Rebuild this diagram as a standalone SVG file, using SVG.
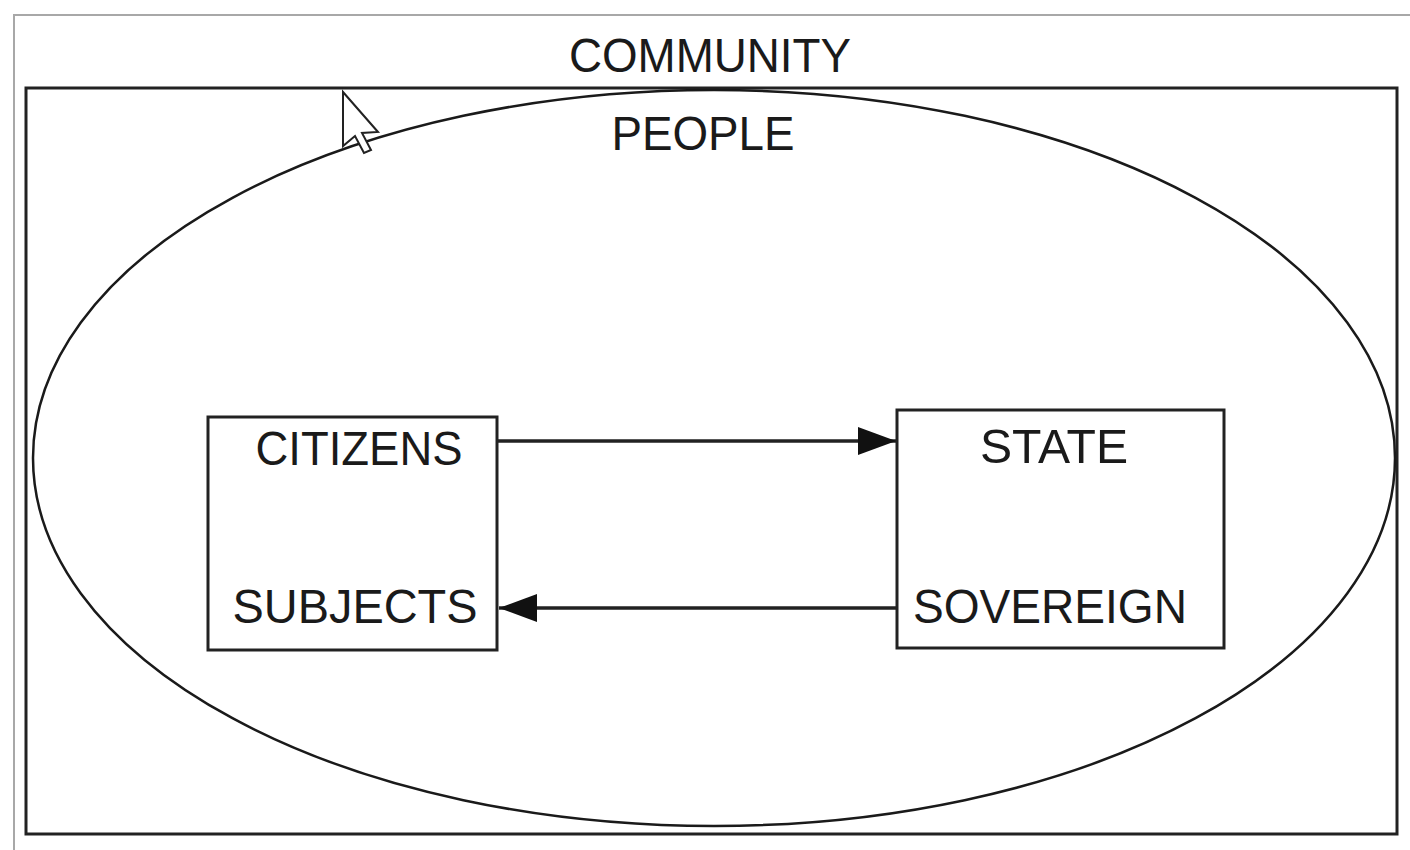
<svg xmlns="http://www.w3.org/2000/svg" width="1410" height="850" viewBox="0 0 1410 850">
  <style>
    .frame { fill: none; stroke: #a8a8a8; stroke-width: 2; }
    .box { fill: #fff; stroke: #222; stroke-width: 3; }
    .outline { fill: none; stroke: #222; stroke-width: 3; }
    .ring { fill: none; stroke: #1a1a1a; stroke-width: 2.5; }
    .label { font-family: "Liberation Sans", Arial, sans-serif; font-size: 48px; fill: #1a1a1a; }
    .link { stroke: #222; stroke-width: 3.5; fill: none; }
  </style>
  <defs>
    <marker id="head" viewBox="0 0 38 28" refX="38" refY="14" markerWidth="38" markerHeight="28" markerUnits="userSpaceOnUse" orient="auto">
      <path d="M0,0 L38,14 L0,28 Z" fill="#111"/>
    </marker>
  </defs>

  <rect width="1410" height="850" fill="#fff"/>

  <!-- window frame -->
  <path class="frame" d="M14,850 V15 H1410"/>

  <g id="community">
    <rect class="outline" x="26" y="88" width="1371" height="746"/>
    <text class="label" x="710" y="72" text-anchor="middle" textLength="282" lengthAdjust="spacingAndGlyphs">COMMUNITY</text>
  </g>

  <g id="people">
    <ellipse class="ring" cx="714" cy="458" rx="681" ry="368"/>
    <text class="label" x="703" y="150" text-anchor="middle" textLength="183" lengthAdjust="spacingAndGlyphs">PEOPLE</text>
  </g>

  <g id="citizens">
    <rect class="box" x="208" y="417" width="289" height="233"/>
    <text class="label" x="359" y="465" text-anchor="middle" textLength="207" lengthAdjust="spacingAndGlyphs">CITIZENS</text>
    <text class="label" x="355" y="623" text-anchor="middle" textLength="245" lengthAdjust="spacingAndGlyphs">SUBJECTS</text>
  </g>

  <g id="state">
    <rect class="box" x="897" y="410" width="327" height="238"/>
    <text class="label" x="1054" y="463" text-anchor="middle" textLength="148" lengthAdjust="spacingAndGlyphs">STATE</text>
    <text class="label" x="1050" y="623" text-anchor="middle" textLength="274" lengthAdjust="spacingAndGlyphs">SOVEREIGN</text>
  </g>

  <g id="connectors">
    <line class="link" x1="498" y1="441" x2="896" y2="441" marker-end="url(#head)"/>
    <line class="link" x1="896" y1="608" x2="499" y2="608" marker-end="url(#head)"/>
  </g>

  <!-- pointer -->
  <polygon id="pointer" points="343,92 343,146 355,136 364,153 371,150 362,133 378,132" fill="#fff" stroke="#222" stroke-width="2" stroke-linejoin="miter"/>
</svg>
